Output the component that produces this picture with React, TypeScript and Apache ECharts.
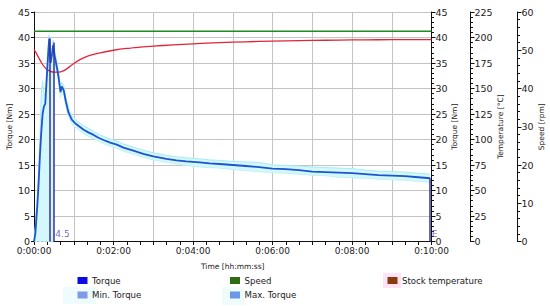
import React, { useEffect, useRef } from "react";
import * as echarts from "echarts";

// ---- data (time in seconds) ----
const torqueTime = [0, 2, 5, 7, 9, 11, 13, 15, 17, 19, 21, 23, 25, 27, 29, 31, 33, 35, 37, 40, 42, 45, 48, 52, 57, 62, 68, 75, 82, 90, 98, 105, 115, 125, 135, 150, 165, 180, 200, 215, 230, 250, 265, 280, 300, 320, 340, 360, 380, 400, 420, 440, 460, 480, 500, 520, 540, 560, 580, 598];
const torque = [0, 1.5, 7, 11.5, 17, 21.5, 25, 26.5, 27, 31.5, 36, 39.8, 35, 36.5, 38.5, 36.5, 35.2, 33.8, 32.3, 29.3, 30.4, 29.6, 27.5, 25.3, 23.9, 23.2, 22.6, 21.9, 21.4, 20.9, 20.3, 19.9, 19.4, 19.0, 18.4, 17.8, 17.2, 16.7, 16.2, 15.9, 15.7, 15.5, 15.3, 15.2, 15.0, 14.8, 14.6, 14.3, 14.2, 14.0, 13.7, 13.6, 13.5, 13.4, 13.2, 13.0, 12.9, 12.8, 12.6, 12.4];
const minTorque = [0, 0, 0, 0, 0, 0, 0, 0, 0, 0, 0, 0, 0, 0, 0, 35.5, 34.3, 32.8, 31.2, 28.2, 29.4, 28.7, 26.6, 24.4, 23.1, 22.4, 21.8, 21.1, 20.6, 20.2, 19.6, 19.2, 18.7, 18.3, 17.7, 17.1, 16.5, 16.0, 15.5, 15.2, 14.9, 14.6, 14.5, 14.4, 14.1, 13.9, 13.7, 13.5, 13.4, 13.2, 13.0, 12.9, 12.6, 12.5, 12.4, 12.2, 12.1, 12.0, 11.8, 11.6];
const maxTorque = [1, 3, 9, 14, 20, 29, 31.5, 29, 28.5, 33, 38, 40.5, 37, 38, 39.5, 37.5, 36.2, 34.8, 33.3, 30.5, 31.2, 30.5, 28.4, 26.2, 24.7, 24.0, 23.4, 22.7, 22.2, 21.6, 21.0, 20.6, 20.1, 19.7, 19.1, 18.5, 17.9, 17.4, 16.9, 16.6, 16.4, 16.2, 16.0, 15.9, 15.7, 15.6, 15.5, 15.0, 14.9, 14.8, 14.6, 14.5, 14.4, 14.3, 14.0, 13.8, 13.7, 13.6, 13.4, 13.2];

const tempTime = [0, 4, 8, 12, 16, 20, 25, 30, 35, 40, 45, 50, 55, 60, 70, 80, 90, 100, 120, 140, 160, 180, 210, 240, 280, 320, 360, 400, 440, 480, 520, 560, 600];
const stockTemp = [188.5, 184, 179, 174.5, 171, 168.5, 166.8, 166, 166, 166.3, 167.5, 169.5, 172, 174.5, 178.5, 181.5, 183.5, 185, 187.5, 189.3, 190.5, 191.5, 192.8, 193.8, 195, 195.8, 196.5, 197, 197.3, 197.6, 197.8, 197.9, 198];

const speedTime = [0, 600];
const speed = [55, 55];

const markerTimes = [23.3, 29.9, 598];
const markerTops = [39.8, 39.0, 12.4];
const markerLabels = ["", "4.5", "E"];

const timeLabels = ["0:00:00", "0:02:00", "0:04:00", "0:06:00", "0:08:00", "0:10:00"];

const legendItems = [
  { name: "Torque", color: "#0a0ae6", col: 0, row: 0 },
  { name: "Speed", color: "#2e6b12", col: 1, row: 0 },
  { name: "Stock temperature", color: "#8b3a0c", col: 2, row: 0 },
  { name: "Min. Torque", color: "#7f9ae6", col: 0, row: 1 },
  { name: "Max. Torque", color: "#6b97e8", col: 1, row: 1 },
];

const FONT = "DejaVu Sans";

export default function App() {
  const ref = useRef<HTMLDivElement>(null);
  useEffect(() => {
    if (!ref.current) return;
    const chart = echarts.init(ref.current, null, { renderer: "svg" });
    const zip = (xs: number[], ys: number[]) => xs.map((x, i) => [x, ys[i]]);

    const colX = [77.5, 230, 387.5];
    const rowY = [280.5, 295];
    const legendGraphics: any[] = [
      { type: "rect", shape: { x: 63, y: 287, width: 33, height: 17 }, style: { fill: "#effcfd" }, silent: true },
      { type: "rect", shape: { x: 222, y: 287, width: 22, height: 18 }, style: { fill: "#effcfd" }, silent: true },
      { type: "rect", shape: { x: 383, y: 273, width: 18, height: 15 }, style: { fill: "#fde3f5" }, silent: true },
    ];
    legendItems.forEach((it) => {
      legendGraphics.push({
        type: "rect",
        shape: { x: colX[it.col], y: rowY[it.row] - 3.5, width: 10, height: 7 },
        style: { fill: it.color },
        silent: true,
      });
      legendGraphics.push({
        type: "text",
        x: colX[it.col] + 14.5,
        y: rowY[it.row],
        style: { text: it.name, fontSize: 8.6, fontFamily: FONT, fill: "#222", verticalAlign: "middle" },
        silent: true,
      });
    });

    const rightAxis = (offset: number, max: number, interval: number, name: string, nameGap: number) => ({
      type: "value",
      position: "right",
      offset,
      min: 0,
      max,
      interval,
      name,
      nameLocation: "middle",
      nameGap,
      nameMoveOverlap: false,
      nameTextStyle: { fontSize: 7.5, fontFamily: FONT, color: "#222" },
      axisLine: { show: true, lineStyle: { color: "#111", width: 1 } },
      axisTick: { show: true, length: 4, lineStyle: { color: "#111" } },
      minorTick: { show: true, splitNumber: 5, length: 2.5, lineStyle: { color: "#111" } },
      splitLine: { show: false },
      axisLabel: { fontSize: 9.5, fontFamily: FONT, color: "#222", margin: 4 },
    });

    chart.setOption({
      animation: false,
      backgroundColor: "#ffffff",
      grid: { left: 34, right: 118.5, top: 12, bottom: 64.5, containLabel: false, outerBoundsMode: "none" },
      xAxis: {
        type: "value",
        min: 0,
        max: 600,
        interval: 60,
        name: "Time [hh:mm:ss]",
        nameLocation: "middle",
        nameGap: 21,
        nameMoveOverlap: false,
        nameTextStyle: { fontSize: 7.5, fontFamily: FONT, color: "#222" },
        axisLine: { show: true, onZero: false, lineStyle: { color: "#111" } },
        axisTick: { show: true, length: 3.5, lineStyle: { color: "#111" } },
        minorTick: { show: true, splitNumber: 3, length: 3.5, lineStyle: { color: "#111" } },
        splitLine: { show: true, lineStyle: { color: "#c4c4c4", width: 1 } },
        axisLabel: {
          fontSize: 9,
          fontFamily: FONT,
          color: "#222",
          margin: 5,
          showMaxLabel: true,
          formatter: (v: number) => (v % 120 === 0 ? timeLabels[v / 120] : ""),
        },
      },
      yAxis: [
        {
          type: "value",
          position: "left",
          min: 0,
          max: 45,
          interval: 5,
          name: "Torque [Nm]",
          nameLocation: "middle",
          nameGap: 21,
          nameMoveOverlap: false,
          nameTextStyle: { fontSize: 7.5, fontFamily: FONT, color: "#222" },
          axisLine: { show: true, lineStyle: { color: "#111" } },
          axisTick: { show: true, length: 3, lineStyle: { color: "#111" } },
          splitLine: { show: true, lineStyle: { color: "#c4c4c4", width: 1 } },
          axisLabel: { fontSize: 9.5, fontFamily: FONT, color: "#222", margin: 4 },
        },
        rightAxis(0, 45, 5, "Torque [Nm]", 18.5),
        rightAxis(39, 225, 25, "Temperature [°C]", 26),
        rightAxis(86, 60, 10, "Speed [rpm]", 20),
      ],
      graphic: legendGraphics,
      series: [
        {
          name: "Torque band",
          type: "custom",
          yAxisIndex: 0,
          data: [0],
          silent: true,
          clip: true,
          renderItem: (params: any, api: any) => {
            const upper = torqueTime.map((t, i) => api.coord([t, maxTorque[i]]));
            const lower = torqueTime.map((t, i) => api.coord([t, minTorque[i]])).reverse();
            return {
              type: "polygon",
              shape: { points: upper.concat(lower) },
              style: { fill: "#d4f7fb", stroke: "none" },
            };
          },
          z: 1,
        },
        {
          name: "Min. Torque",
          type: "line",
          yAxisIndex: 0,
          symbol: "none",
          data: zip(torqueTime, minTorque),
          lineStyle: { color: "#c0f1f8", width: 1 },
          z: 2,
        },
        {
          name: "Max. Torque",
          type: "line",
          yAxisIndex: 0,
          symbol: "none",
          data: zip(torqueTime, maxTorque),
          lineStyle: { color: "#a6ebf6", width: 1 },
          z: 2,
        },
        {
          name: "Speed",
          type: "line",
          yAxisIndex: 3,
          symbol: "none",
          data: zip(speedTime, speed),
          lineStyle: { color: "#1f8a1f", width: 1.5 },
          z: 3,
        },
        {
          name: "Stock temperature",
          type: "line",
          yAxisIndex: 2,
          symbol: "none",
          smooth: 0.3,
          data: zip(tempTime, stockTemp),
          lineStyle: { color: "#e3243a", width: 1.3 },
          z: 3,
        },
        {
          name: "Torque",
          type: "line",
          yAxisIndex: 0,
          symbol: "none",
          data: zip(torqueTime, torque),
          lineStyle: { color: "#1b55cf", width: 1.8 },
          z: 4,
          markLine: {
            silent: true,
            symbol: "none",
            label: { show: false },
            lineStyle: { color: "#34349c", width: 1.5, type: "solid" },
            data: markerTimes.map((t, i) => [{ coord: [t, 0] }, { coord: [t, markerTops[i]] }]),
          },
        },
        {
          name: "markers",
          type: "scatter",
          yAxisIndex: 0,
          symbolSize: 0.01,
          data: markerTimes.map((t, i) => [t, 0, markerLabels[i]]),
          label: {
            show: true,
            position: "right",
            distance: 1.5,
            offset: [0, -8],
            fontSize: 9,
            fontFamily: FONT,
            color: "#4848b0",
            formatter: (p: any) => p.data[2],
          },
          z: 5,
        },
      ],
    });
    return () => chart.dispose();
  }, []);
  return <div ref={ref} style={{ position: "absolute", left: 0, top: 0, width: 550, height: 306 }} />;
}
